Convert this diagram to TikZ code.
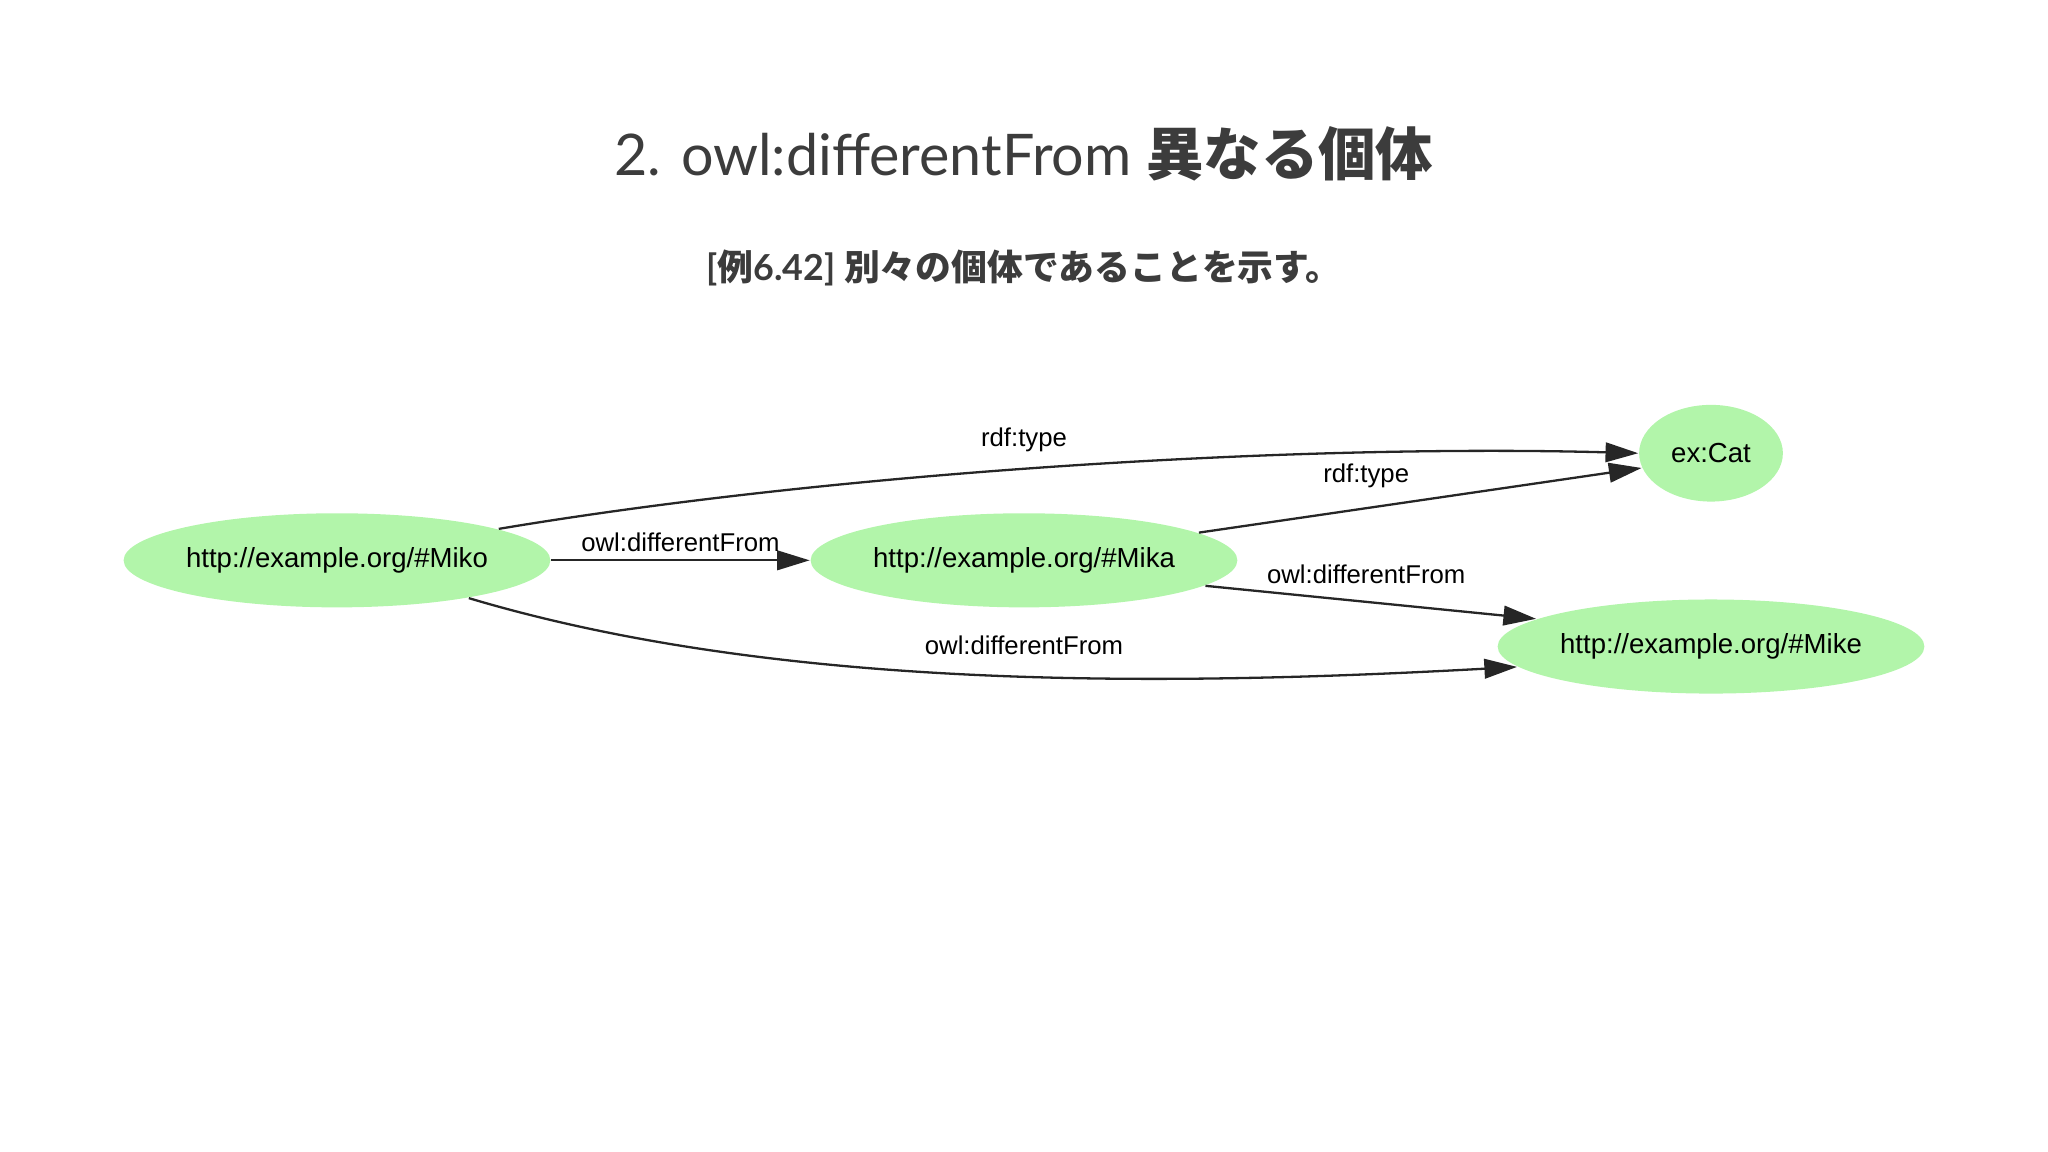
\documentclass[tikz,border=0pt]{standalone}
\usepackage{fontspec}
\setmainfont{Lato}
\newfontfamily\cjk{Noto Sans CJK JP}
\newfontfamily\gv{Liberation Sans}
\usetikzlibrary{shapes.geometric,arrows.meta}
\definecolor{nodegreen}{RGB}{178,245,170}
\definecolor{titlegray}{RGB}{60,60,60}
\tikzset{
  res/.style={ellipse,fill=nodegreen,draw=none,minimum width=3.06cm,minimum height=0.72cm,font=\gv\fontsize{6}{7}\selectfont,inner sep=0pt},
  edge/.style={draw=black!85,line width=0.5pt,-{Triangle[length=0.25cm,width=0.15cm]}},
  lab/.style={font=\gv\fontsize{5.6}{7}\selectfont,fill=none,inner sep=1pt}
}
\begin{document}
\begin{tikzpicture}[x=0.01cm,y=-0.01cm]
\useasboundingbox (0,0) rectangle (1568,882);
\node[text=titlegray,font=\fontsize{12.5}{15}\selectfont] (title) at (784,118) {2. owl:differentFrom {\cjk\bfseries 異なる個体}};
\node[text=titlegray,font=\bfseries\fontsize{7.8}{10}\selectfont] (sub) at (784,205) {[{\cjk 例}6.42] {\cjk 別々の個体であることを示す。}};
\node[res] (miko) at (258,429) {http://example.org/\#Miko};
\node[res] (mika) at (784,429) {http://example.org/\#Mika};
\node[res,minimum width=1.1cm,minimum height=0.74cm] (cat) at (1310,347) {ex:Cat};
\node[res] (mike) at (1310,495) {http://example.org/\#Mike};
\draw[edge] (miko.east) -- (mika.west);
\draw[edge] (miko.11) .. controls (650,360) and (1000,340) .. (cat.180);
\draw[edge] (mika.9) -- (cat.192);
\draw[edge] (mika.-8) -- (mike.171);
\draw[edge] (miko.-16) .. controls (600,530) and (900,525) .. (mike.186);
\node[lab] (l1) at (784,337) {rdf:type};
\node[lab] (l2) at (1046,364) {rdf:type};
\node[lab] (l3) at (521,415) {owl:differentFrom};
\node[lab] (l4) at (1046,440) {owl:differentFrom};
\node[lab] (l5) at (784,494) {owl:differentFrom};
\end{tikzpicture}
\end{document}
